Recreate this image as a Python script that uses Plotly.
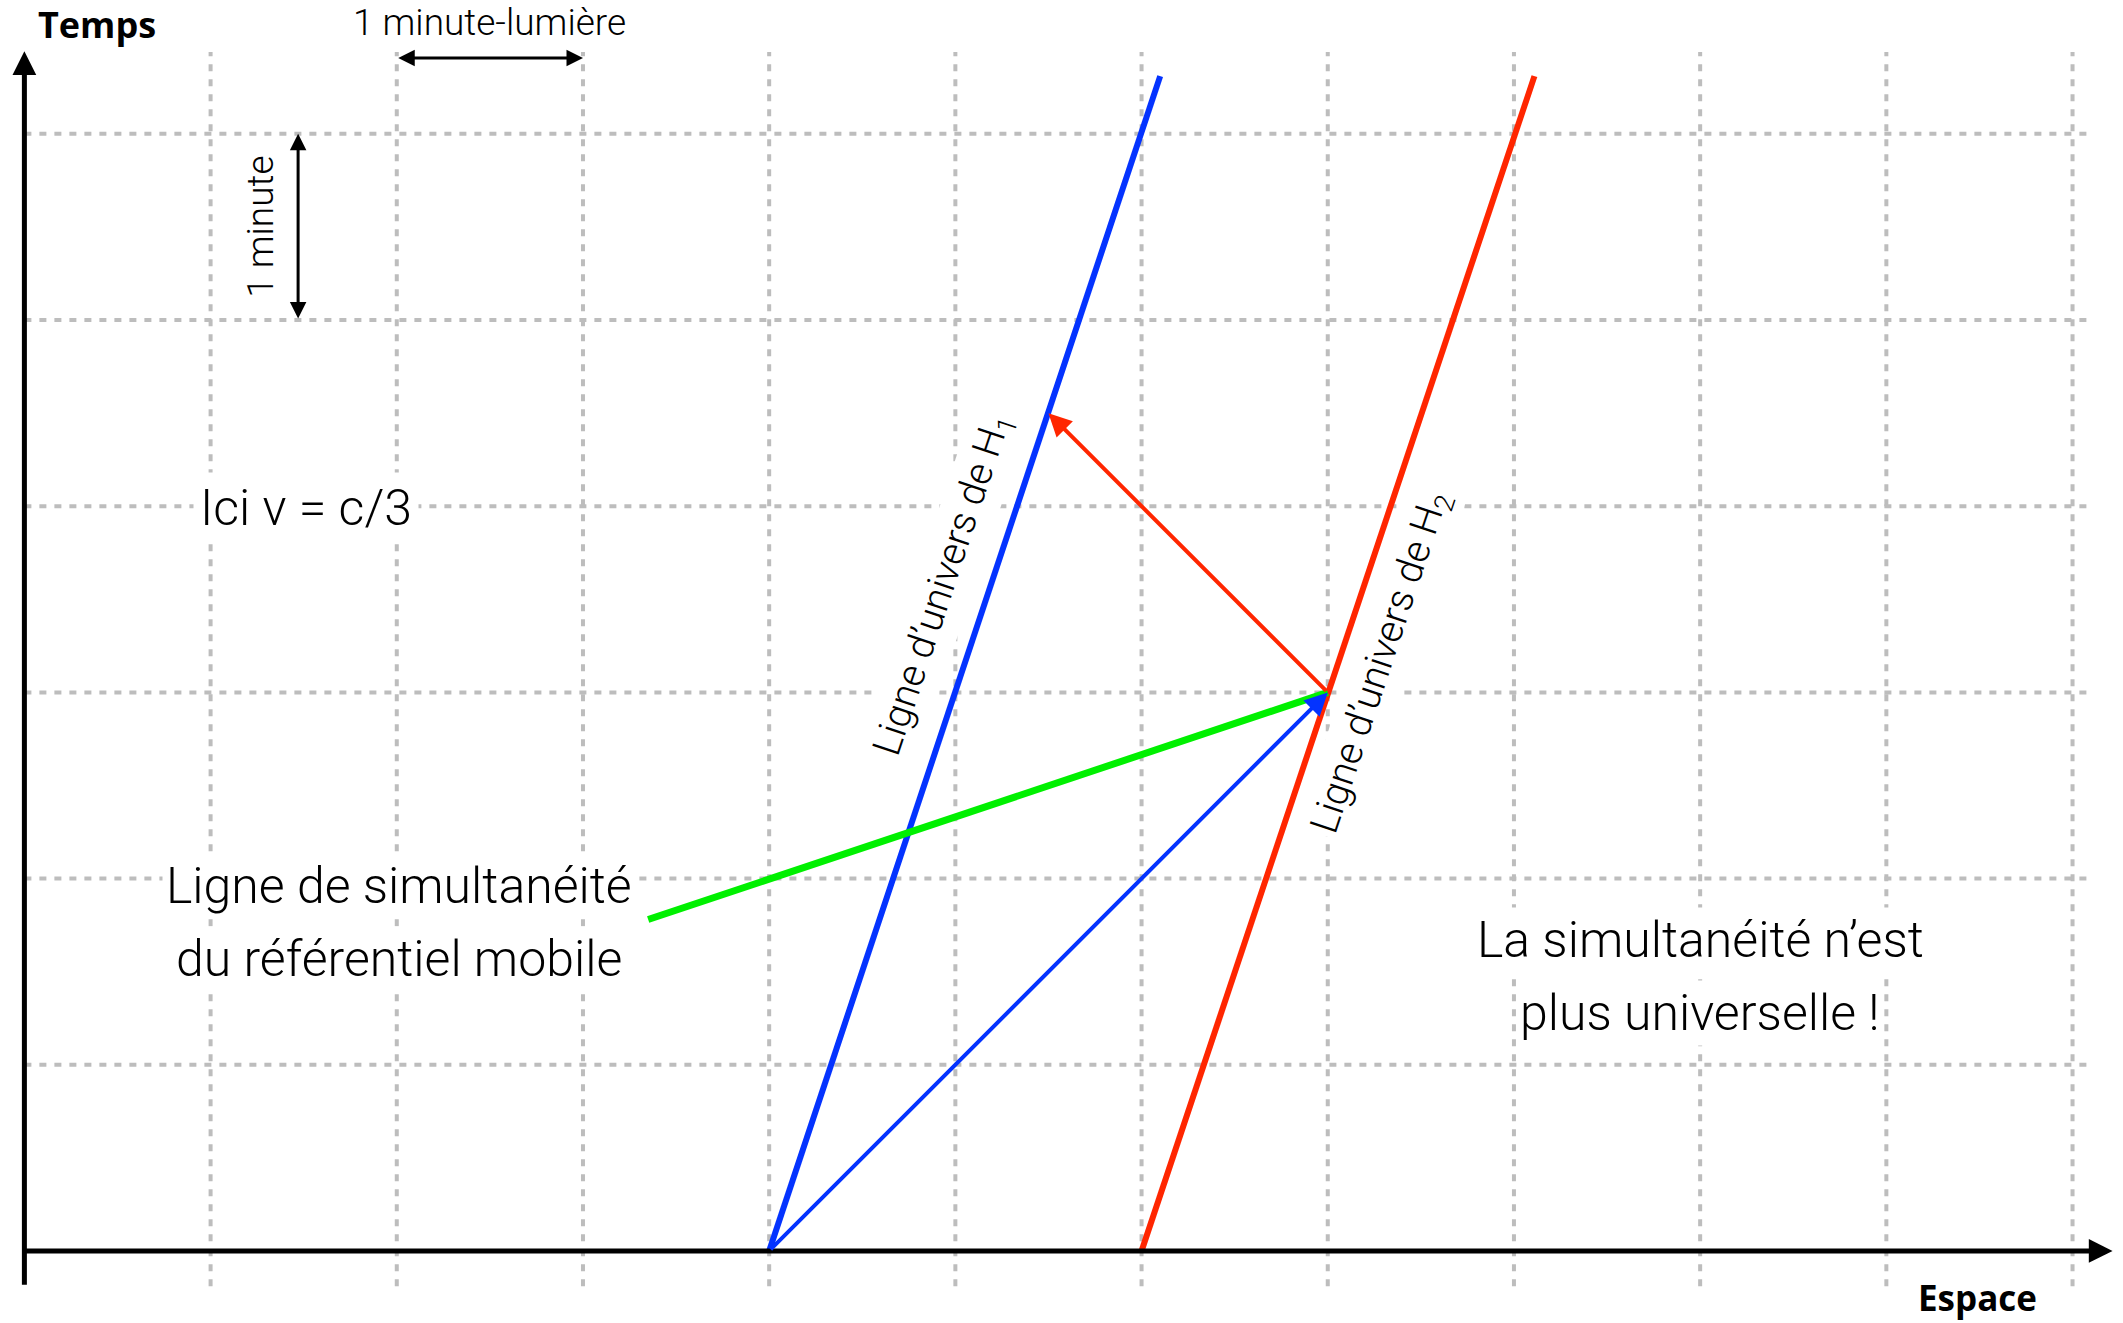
import plotly.graph_objects as go

# ---------------- data (units: 1 minute-lumière / 1 minute) ----------------
grid_x = [1, 2, 3, 4, 5, 6, 7, 8, 9, 10, 11]
grid_y = [1, 2, 3, 4, 5, 6]
grid_x_span = [0.0, 11.1]      # horizontal grid lines extent
grid_y_span = [-0.19, 6.44]    # vertical grid lines extent

h1_x = [4.0, 6.10]
h1_t = [0.0, 6.31]
h2_x = [6.0, 8.11]
h2_t = [0.0, 6.31]
simul_x = [3.35, 7.0]
simul_t = [1.78, 3.0]
signal_out_x = [4.0, 7.0]
signal_out_t = [0.0, 3.0]
signal_back_x = [7.0, 5.5]
signal_back_t = [3.0, 4.5]

BLUE = "#0433ff"
RED = "#ff2600"
GREEN = "#00f000"
GRID = "#bdbdbd"

fig = go.Figure()

# grid
gx, gy = [], []
for x in grid_x:
    gx += [x, x, None]
    gy += [grid_y_span[0], grid_y_span[1], None]
for y in grid_y:
    gx += [grid_x_span[0], grid_x_span[1], None]
    gy += [y, y, None]
fig.add_trace(go.Scatter(x=gx, y=gy, mode="lines", hoverinfo="skip",
                         line=dict(color=GRID, width=4, dash="7px,8px")))

# world lines and simultaneity line
fig.add_trace(go.Scatter(x=h1_x, y=h1_t, mode="lines", line=dict(color=BLUE, width=6)))
fig.add_trace(go.Scatter(x=h2_x, y=h2_t, mode="lines", line=dict(color=RED, width=6)))
fig.add_trace(go.Scatter(x=simul_x, y=simul_t, mode="lines", line=dict(color=GREEN, width=7)))

annotations = []


def arrow(x0, y0, x1, y1, color, width, head=2, size=1.0, side="end"):
    annotations.append(dict(
        x=x1, y=y1, ax=x0, ay=y0, xref="x", yref="y", axref="x", ayref="y",
        text="", showarrow=True, arrowhead=head, startarrowhead=head,
        arrowsize=size, startarrowsize=size, arrowwidth=width,
        arrowcolor=color, arrowside=side, standoff=0, startstandoff=0))


# axes
arrow(0, -0.19, 0, 6.444, "black", 5, head=2, size=0.95)
arrow(0, 0, 11.215, 0, "black", 5, head=2, size=0.95)

# light signals
arrow(signal_out_x[0], signal_out_t[0], signal_out_x[1], signal_out_t[1], BLUE, 4, head=2, size=1.15)
arrow(signal_back_x[0], signal_back_t[0], signal_back_x[1], signal_back_t[1], RED, 4, head=2, size=1.15)

# scale arrows
arrow(2, 6.407, 3, 6.407, "black", 3, head=2, size=1.1, side="end+start")
arrow(1.47, 5, 1.47, 6, "black", 3, head=2, size=1.1, side="end+start")

TXT = dict(family="Roboto, 'Liberation Sans', sans-serif", color="black", weight=300)
BOLD = dict(family="'Open Sans', sans-serif", color="black", weight="bold")


def label(x, y, text, size, angle=0, font=TXT, bg="white", pad=6):
    f = dict(font)
    f["size"] = size
    annotations.append(dict(x=x, y=y, xref="x", yref="y", text=text, showarrow=False,
                            textangle=angle, font=f, bgcolor=bg, borderpad=pad,
                            xanchor="center", yanchor="middle"))


label(0.39, 6.59, "Temps", 36, font=BOLD, bg="rgba(0,0,0,0)", pad=0)
label(10.49, -0.25, "Espace", 35, font=BOLD, bg="rgba(0,0,0,0)", pad=0)
label(2.5, 6.6, "1 minute-lumière", 37, bg="rgba(0,0,0,0)", pad=0)
label(1.27, 5.5, "1 minute", 37, angle=-90, bg="rgba(0,0,0,0)", pad=0)
label(1.51, 3.99, "Ici v = c/3", 50)
label(2.01, 1.96, "Ligne de simultanéité", 50, pad=3)
label(2.01, 1.57, "du référentiel mobile", 50, pad=3)
label(9.0, 1.67, "La simultanéité n’est", 50, pad=3)
label(9.0, 1.28, "plus universelle !", 50, pad=3)
label(4.94, 3.58, "Ligne d’univers de H<sub>1</sub>", 39, angle=-71.57, pad=3)
label(7.29, 3.16, "Ligne d’univers de H<sub>2</sub>", 39, angle=-71.57, pad=3)

fig.update_layout(
    width=2123, height=1323,
    margin=dict(l=0, r=0, t=0, b=0),
    paper_bgcolor="white", plot_bgcolor="white",
    showlegend=False,
    xaxis=dict(range=[-0.131, 11.271], visible=False, fixedrange=True),
    yaxis=dict(range=[-0.387, 6.719], visible=False, fixedrange=True),
    annotations=annotations,
)

fig.write_html("out.html", config={"displayModeBar": False},
               post_script="document.body.style.margin='0';document.body.style.overflow='hidden';")
